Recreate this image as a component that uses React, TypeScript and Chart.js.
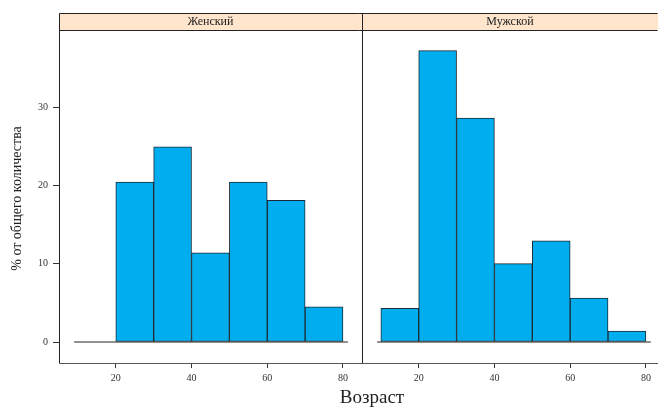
import React, { useEffect, useRef } from "react";
import { Chart, registerables } from "chart.js";
Chart.register(...registerables);

const panels = ["Женский", "Мужской"];
const binStarts = [10, 20, 30, 40, 50, 60, 70];
const binWidth = 10;
const femalePct = [0, 20.4, 24.9, 11.4, 20.4, 18.1, 4.5];
const malePct = [4.3, 37.2, 28.6, 10.0, 12.9, 5.6, 1.4];
const xTicks = [20, 40, 60, 80];
const yTicks = [0, 10, 20, 30];
const xTitle = "Возраст";
const yTitle = "% от общего количества";
const baseLine = [9, 81.3];

const X_MIN = 5;
const X_MAX = 85;
const SPAN = X_MAX - X_MIN;
const PANEL2_VISIBLE_MAX = 83.2;
const Y_MIN = -2.68;
const Y_MAX = 39.83;

const FONT = "'Liberation Serif', 'DejaVu Serif', serif";
const BAR_FILL = "#00AEEF";
const BAR_LINE = "#1c2a33";
const STRIP_FILL = "#FFE5CC";
const AXIS = "#333333";

const toX = (age: number, panel: number) => age + panel * SPAN;

export default function App() {
  const ref = useRef<HTMLCanvasElement | null>(null);
  useEffect(() => {
    const canvas = ref.current;
    if (!canvas) return;
    const series = [femalePct, malePct];
    const barSets = series.map((vals, p) => ({
      type: "bar" as const,
      label: panels[p],
      data: binStarts.map((s, i) => ({ x: toX(s + binWidth / 2, p), y: vals[i] })),
      backgroundColor: BAR_FILL,
      borderColor: BAR_LINE,
      borderWidth: 1,
      borderSkipped: false,
      grouped: false,
      barPercentage: 1,
      categoryPercentage: 1,
      order: 2,
    }));
    const lineSets = panels.map((name, p) => ({
      type: "line" as const,
      label: name + " base",
      data: baseLine.map((a) => ({ x: toX(a, p), y: 0 })),
      borderColor: "#222222",
      borderWidth: 1.2,
      pointRadius: 0,
      fill: false,
      order: 1,
    }));

    const decor = {
      id: "latticeDecor",
      afterDraw(chart: any) {
        const { ctx, chartArea, scales } = chart;
        const xs = scales.x;
        const top = chartArea.top;
        const bottom = chartArea.bottom;
        const stripH = 17;
        ctx.save();
        // strips
        panels.forEach((name, p) => {
          const l = xs.getPixelForValue(toX(X_MIN, p));
          const r = Math.min(xs.getPixelForValue(toX(X_MAX, p)), chartArea.right);
          ctx.fillStyle = STRIP_FILL;
          ctx.fillRect(l, top - stripH, r - l, stripH);
          ctx.fillStyle = "#222";
          ctx.font = `12px ${FONT}`;
          ctx.textAlign = "center";
          ctx.textBaseline = "middle";
          ctx.fillText(name, (l + r) / 2, top - stripH / 2 + 0.5);
        });
        // box lines
        ctx.strokeStyle = "#222";
        ctx.lineWidth = 1;
        const L = Math.round(chartArea.left) + 0.5;
        const R = Math.round(chartArea.right) - 0.5;
        const T0 = Math.round(top - stripH) + 0.5;
        const T1 = Math.round(top) + 0.5;
        const B = Math.round(bottom) + 0.5;
        const D = Math.round(xs.getPixelForValue(X_MAX)) + 0.5;
        ctx.beginPath();
        ctx.moveTo(L, T0); ctx.lineTo(R, T0);
        ctx.moveTo(L, T1); ctx.lineTo(R, T1);
        ctx.moveTo(L, T0); ctx.lineTo(L, B);
        ctx.moveTo(D, T0); ctx.lineTo(D, B);
        ctx.stroke();
        ctx.strokeStyle = "#555";
        ctx.beginPath();
        ctx.moveTo(L, B); ctx.lineTo(R + 1, B);
        ctx.stroke();
        // titles
        ctx.fillStyle = "#222";
        ctx.font = `19px ${FONT}`;
        ctx.textAlign = "center";
        ctx.textBaseline = "middle";
        ctx.fillText(xTitle, 372, 398);
        ctx.save();
        ctx.translate(17, (top + bottom) / 2 + 2);
        ctx.rotate(-Math.PI / 2);
        ctx.font = `14px ${FONT}`;
        ctx.fillText(yTitle, 0, 0);
        ctx.restore();
        ctx.restore();
      },
    };

    const chart = new Chart(canvas, {
      type: "bar",
      data: { datasets: [...barSets, ...lineSets] as any },
      options: {
        responsive: false,
        animation: false,
        devicePixelRatio: 1,
        layout: { padding: { top: 30, left: 0, right: 0, bottom: 0 } },
        plugins: { legend: { display: false }, tooltip: { enabled: false } },
        scales: {
          x: {
            type: "linear",
            offset: false,
            min: X_MIN,
            max: toX(PANEL2_VISIBLE_MAX, 1),
            afterBuildTicks: (scale: any) => {
              scale.ticks = panels.flatMap((_, p) => xTicks.map((v) => ({ value: toX(v, p) })));
            },
            afterFit: (scale: any) => {
              scale.height = 46;
            },
            grid: {
              offset: false,
              drawOnChartArea: false,
              drawTicks: true,
              tickLength: 5,
              color: AXIS,
            },
            border: { display: false },
            ticks: {
              autoSkip: false,
              maxRotation: 0,
              padding: 4,
              color: AXIS,
              font: { family: FONT, size: 10 },
              callback: (v: any) => String(v > X_MAX ? v - SPAN : v),
            },
          },
          y: {
            type: "linear",
            min: Y_MIN,
            max: Y_MAX,
            afterBuildTicks: (scale: any) => {
              scale.ticks = yTicks.map((v) => ({ value: v }));
            },
            afterFit: (scale: any) => {
              scale.width = 59;
            },
            grid: {
              drawOnChartArea: false,
              drawTicks: true,
              tickLength: 6,
              color: AXIS,
            },
            border: { display: false },
            ticks: {
              padding: 5,
              color: AXIS,
              font: { family: FONT, size: 10 },
            },
          },
        },
      } as any,
      plugins: [decor],
    });
    return () => chart.destroy();
  }, []);

  return (
    <div style={{ position: "absolute", left: 0, top: 0, width: 658, height: 409, background: "#fff" }}>
      <canvas ref={ref} width={658} height={409} />
    </div>
  );
}
